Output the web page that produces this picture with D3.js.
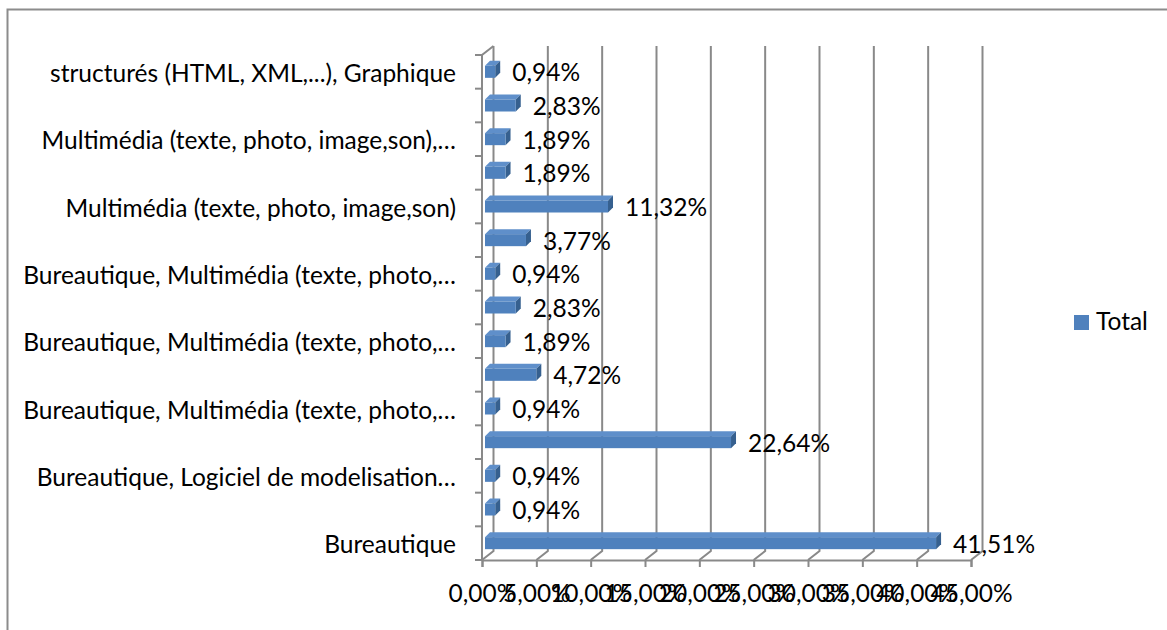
<!DOCTYPE html>
<html>
<head>
<meta charset="utf-8">
<script src="https://cdn.jsdelivr.net/npm/d3@7/dist/d3.min.js"></script>
<style>
  html, body { margin: 0; padding: 0; background: #fff; }
  svg { display: block; }
  text { font-family: Lato, "Open Sans", sans-serif; fill: #000; }
</style>
</head>
<body>
<svg id="chart" width="1167" height="630"></svg>
<script>
// Categories from bottom to top; only every other label fits on the axis.
const categoryLabels = [
  "Bureautique",
  "",
  "Bureautique, Logiciel de modelisation…",
  "",
  "Bureautique, Multimédia (texte, photo,…",
  "",
  "Bureautique, Multimédia (texte, photo,…",
  "",
  "Bureautique, Multimédia (texte, photo,…",
  "",
  "Multimédia (texte, photo, image,son)",
  "",
  "Multimédia (texte, photo, image,son),…",
  "",
  "structurés (HTML, XML,...), Graphique"
];
// Share of respondents (%) per category, same order as above
const totalValues = [41.51, 0.94, 0.94, 22.64, 0.94, 4.72, 1.89, 2.83, 0.94, 3.77, 11.32, 1.89, 1.89, 2.83, 0.94];
const xTickValues = [0, 5, 10, 15, 20, 25, 30, 35, 40, 45];
const seriesName = "Total";

const fr = d3.formatLocale({ decimal: ",", thousands: " ", grouping: [3], currency: ["", " €"], percent: "%" });
const pct = v => fr.format(".2%")(v / 100);

const svg = d3.select("#chart");
const W = 1167, H = 630;
const FS = 24.5;

// chart area frame
svg.append("rect")
  .attr("x", 7.5).attr("y", 9.5)
  .attr("width", W + 10).attr("height", H + 10)
  .attr("fill", "#fff").attr("stroke", "#8c8c8c").attr("stroke-width", 2);

// 3D projection: front plane plus a depth offset toward the back
const DX = 11.5, DY = -9;
const x = d3.scaleLinear().domain([0, 45]).range([482, 971]);
const y = d3.scaleBand().domain(d3.range(categoryLabels.length)).range([560, 55]);
const step = y.step();
const frontY0 = 560, frontY1 = 55;

const grid = svg.append("g").attr("stroke", "#898989").attr("stroke-width", 2).attr("fill", "none");

// back wall vertical gridlines + floor diagonals
xTickValues.forEach(v => {
  const xf = x(v), xb = x(v) + DX;
  grid.append("path").attr("d", `M${xf},${frontY0}L${xb},${frontY0 + DY}L${xb},${frontY1 + DY}`);
});
// left side wall front edge and top edge
grid.append("path").attr("d", `M${x(0)},${frontY0}L${x(0)},${frontY1}L${x(0) + DX},${frontY1 + DY}`);
// category tick marks on the side wall
d3.range(categoryLabels.length + 1).forEach(i => {
  const yy = frontY0 - i * step;
  grid.append("line").attr("x1", x(0) - 7).attr("x2", x(0)).attr("y1", yy).attr("y2", yy);
});

// value axis along the front edge of the floor
const axis = svg.append("g")
  .attr("transform", `translate(0,${frontY0})`)
  .call(d3.axisBottom(x).tickValues(xTickValues).tickSize(7).tickPadding(18).tickFormat(pct));
axis.select(".domain").attr("stroke", "#898989").attr("stroke-width", 2);
axis.selectAll(".tick line").attr("stroke", "#898989").attr("stroke-width", 2);
axis.selectAll(".tick text").attr("font-size", FS).attr("font-family", "Lato, sans-serif").attr("fill", "#000");

// bars
const barH = 12, bx = 3, depthX = 5, depthY = -5;
const bars = svg.append("g");
totalValues.forEach((v, i) => {
  const cy = y(i) + step / 2;
  const x0 = x(0) + bx, x1 = x(v) + bx;
  const yt = cy - barH / 2, yb = cy + barH / 2;
  // top face
  bars.append("path")
    .attr("d", `M${x0},${yt}L${x1},${yt}L${x1 + depthX},${yt + depthY}L${x0 + depthX},${yt + depthY}Z`)
    .attr("fill", "#5f8fca");
  // right side face
  bars.append("path")
    .attr("d", `M${x1},${yt}L${x1 + depthX},${yt + depthY}L${x1 + depthX},${yb + depthY}L${x1},${yb}Z`)
    .attr("fill", "#36608f");
  // front face
  bars.append("rect")
    .attr("x", x0).attr("y", yt).attr("width", x1 - x0).attr("height", barH)
    .attr("fill", "#4f81bd");
  // value label
  svg.append("text")
    .attr("x", x1 + depthX + 12).attr("y", cy + 9.5)
    .attr("font-size", FS)
    .text(pct(v));
});

// category labels
svg.append("g").selectAll("text")
  .data(categoryLabels)
  .join("text")
  .attr("x", 456)
  .attr("y", (d, i) => y(i) + step / 2 + 10)
  .attr("text-anchor", "end")
  .attr("font-size", FS)
  .text(d => d);

// legend
const lg = svg.append("g").attr("transform", "translate(1074,315)");
lg.append("rect").attr("width", 15).attr("height", 15).attr("fill", "#4f81bd");
lg.append("text").attr("x", 22).attr("y", 15).attr("font-size", FS).text(seriesName);
</script>
</body>
</html>
